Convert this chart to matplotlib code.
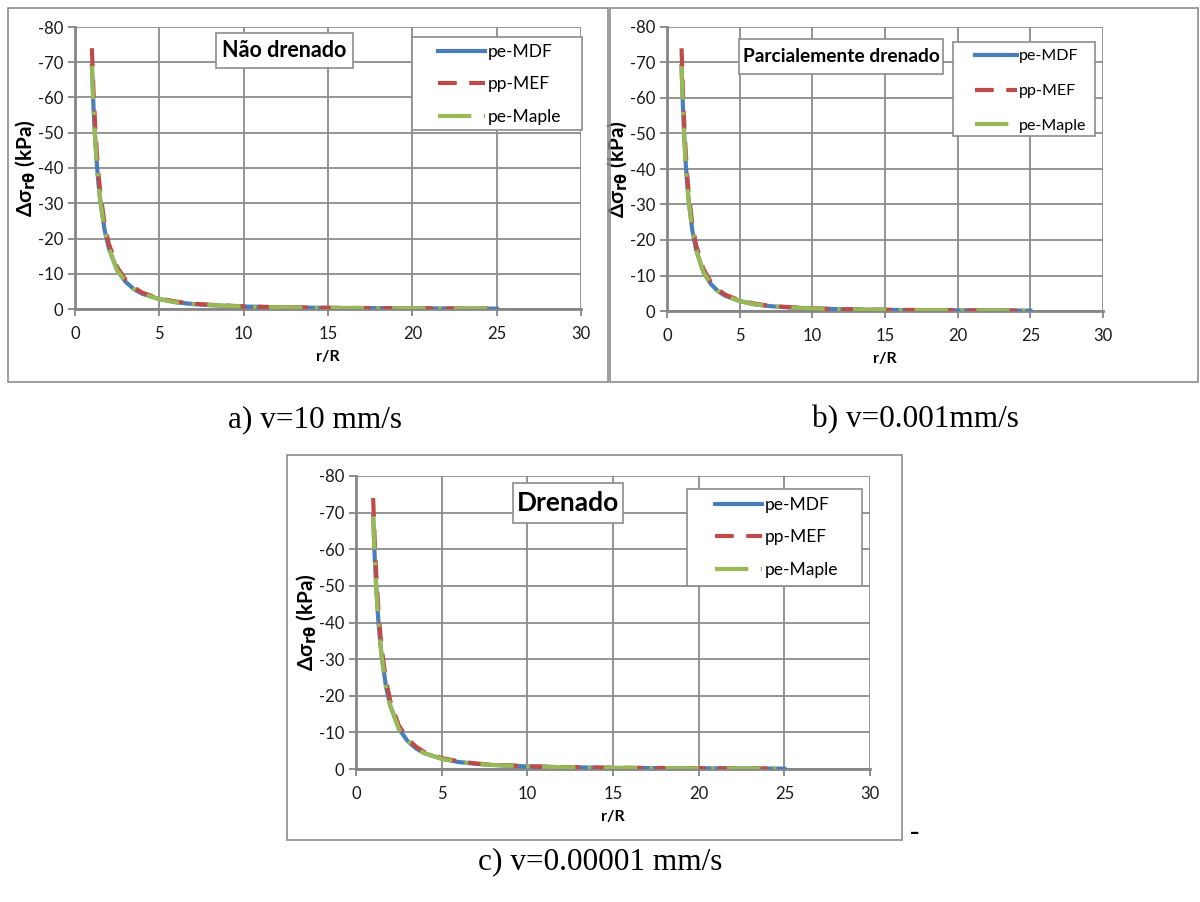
import numpy as np
import matplotlib
matplotlib.use("Agg")
import matplotlib.pyplot as plt
from matplotlib.patches import Rectangle

plt.rcParams['font.family'] = ['Lato', 'DejaVu Sans']
plt.rcParams['mathtext.fontset'] = 'dejavusans'
plt.rcParams['axes.unicode_minus'] = False

# r/R positions and stress values (kPa)
r_mdf = [1.0, 1.1, 1.2, 1.3, 1.4, 1.5, 1.75, 2.0, 2.5, 3.0, 3.5, 4.0, 5.0,
         6.0, 7.0, 8.0, 10.0, 12.0, 15.0, 20.0, 25.0]
mdf = [-69.0, -57.0, -47.9, -40.8, -35.2, -30.7, -22.5, -17.3, -11.0, -7.7,
       -5.6, -4.3, -2.8, -1.9, -1.4, -1.1, -0.7, -0.5, -0.3, -0.2, -0.1]
r_mef = [1.0, 1.1, 1.2, 1.3, 1.4, 1.5, 1.75, 2.0, 2.5, 3.0, 3.5, 4.0, 5.0,
         6.0, 7.0, 8.0, 10.0, 12.0, 15.0, 20.0, 24.5]
mef = [-74.0, -61.5, -51.6, -44.0, -38.0, -33.0, -24.3, -18.6, -11.9, -8.3,
       -6.1, -4.6, -3.0, -2.1, -1.5, -1.2, -0.75, -0.5, -0.35, -0.2, -0.1]
r_maple = r_mdf
maple = [-69.0, -57.0, -47.9, -40.8, -35.2, -30.7, -22.5, -17.3, -11.0, -7.7,
         -5.6, -4.3, -2.8, -1.9, -1.4, -1.1, -0.7, -0.5, -0.3, -0.2, -0.1]

series_names = ['pe-MDF', 'pp-MEF', 'pe-Maple']
panel_titles = ['Não drenado', 'Parcialemente drenado', 'Drenado']
captions = ['a) v=10 mm/s', 'b) v=0.001mm/s', 'c) v=0.00001 mm/s']

W, H = 1200, 902
fig = plt.figure(figsize=(W / 100, H / 100), dpi=100)

def fbox(x0, y0, x1, y1):
    # pixel box (top-left origin) -> figure fraction [l, b, w, h]
    return [x0 / W, 1 - y1 / H, (x1 - x0) / W, (y1 - y0) / H]

def frame(x0, y0, x1, y1, z, fc='none'):
    l, b, w, h = fbox(x0, y0, x1, y1)
    r = Rectangle((l, b), w, h, transform=fig.transFigure, facecolor=fc,
                  edgecolor='#8c8c8c', lw=1.2, zorder=z)
    fig.patches.append(r)

# outer frames of each chart
for bx in [(8, 8, 608, 382), (610, 8, 1198, 382), (287, 455, 902, 840)]:
    frame(*bx, z=0)

axes_px = [(75, 27, 581, 309), (667, 27, 1103, 311), (356, 476, 870, 769)]
title_px = [(216, 33, 353, 68), (739, 39, 943, 74), (513, 483, 623, 523)]
title_fs = [15.5, 13.8, 19]
legend_px = [(412, 37, 582, 130), (953, 42, 1095, 136), (687, 489, 862, 586)]
# font size, handle offset, handle length, label spacing, top offset
legend_fmt = [(12.5, 26, 2.7, 0.95, 7), (11.5, 22, 2.6, 1.3, 7), (12.5, 28, 2.7, 0.95, 8)]

blue, red, green = '#4a7ebb', '#be4b48', '#98b954'

for i in range(3):
    ax = fig.add_axes(fbox(*axes_px[i]))
    ax.plot(r_mdf, mdf, color=blue, lw=3, label=series_names[0], zorder=3)
    ax.plot(r_mef, mef, color=red, lw=3, ls=(0, (4.5, 3)), label=series_names[1], zorder=4)
    ax.plot(r_maple, maple, color=green, lw=3, ls=(0, (8, 3, 0.8, 3)), label=series_names[2], zorder=5)
    ax.set_xlim(0, 30)
    ax.set_ylim(0, -80)
    ax.set_xticks(np.arange(0, 31, 5))
    ax.set_yticks(np.arange(0, -81, -10))
    ax.grid(True, color='#8c8c8c', lw=1.3)
    ax.set_axisbelow(True)
    for s in ['top', 'right']:
        ax.spines[s].set_visible(False)
    for s in ['left', 'bottom']:
        ax.spines[s].set_color('#868686')
        ax.spines[s].set_linewidth(2)
    ax.tick_params(axis='both', labelsize=12, color='#868686', length=5, width=1.3,
                   labelcolor='#1a1a1a')
    ax.tick_params(axis='x', pad=7)
    ax.set_xlabel('r/R', fontsize=11.5, fontweight='bold', labelpad=6)
    ax.set_ylabel(r'Δσ$_{\mathbf{r\theta}}$ (kPa)', fontsize=15, fontweight='bold', labelpad=0)

    # title box
    x0, y0, x1, y1 = title_px[i]
    frame(x0, y0, x1, y1, z=9, fc='white')
    fig.text((x0 + x1) / 2 / W, 1 - (y0 + y1) / 2 / H, panel_titles[i],
             ha='center', va='center', fontsize=title_fs[i], fontweight='bold',
             zorder=10)

    # legend: frame drawn to size, entries placed inside
    lx0, ly0, lx1, ly1 = legend_px[i]
    fs, off, hl, ls, top = legend_fmt[i]
    frame(lx0, ly0, lx1, ly1, z=9, fc='white')
    leg = fig.legend(*ax.get_legend_handles_labels(), loc='upper left',
                     bbox_to_anchor=((lx0 + off) / W, 1 - (ly0 + top) / H),
                     fontsize=fs, frameon=False, handlelength=hl,
                     handletextpad=0.15, labelspacing=ls, borderpad=0,
                     borderaxespad=0)
    leg.set_zorder(11)

# captions
for txt, x, y in zip(captions, [315, 915, 600], [420, 420, 862]):
    fig.text(x / W, 1 - y / H, txt, ha='center', va='center',
             fontsize=22.5, family='Liberation Serif')
fig.text(915 / W, 1 - 833 / H, '-', ha='center', va='center',
         fontsize=20, family='Liberation Serif', fontweight='bold')

fig.savefig('out.png', dpi=100, facecolor='white')
